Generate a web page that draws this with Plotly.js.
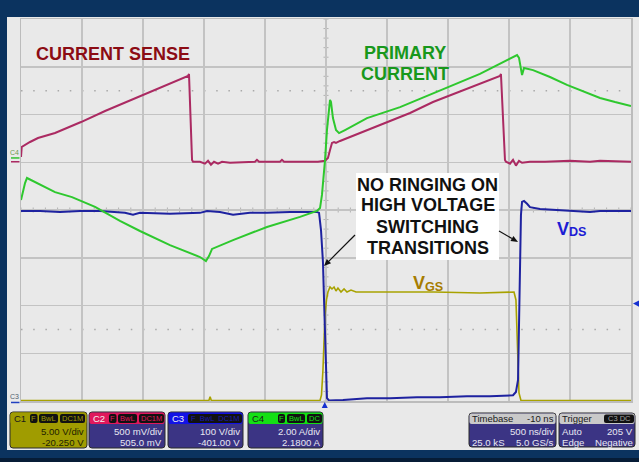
<!DOCTYPE html>
<html><head><meta charset="utf-8">
<script src="https://cdn.plot.ly/plotly-3.0.1.min.js"></script>
<style>html,body{margin:0;padding:0;background:#e9e9e9;overflow:hidden}#chart{width:639px;height:462px}</style>
</head><body><div id="chart"></div>
<script>
// ---- Scope settings ----
const channelNames = ['C1', 'C2', 'C3', 'C4'];
const unitsPerDiv = [5, 0.5, 100, 2];          // V/div, V/div, V/div, A/div
const channelOffsets = [-20.25, 0.505, -401, 2.18];
const perDivLabels = ['5.00 V/div', '500 mV/div', '100 V/div', '2.00 A/div'];
const offsetLabels = ['-20.250 V', '505.0 mV', '-401.00 V', '2.1800 A'];
const nsPerDiv = 500;
const triggerDelayNs = -10;
const triggerLevelV = 205;
const timebaseLabels = ['Timebase', '-10 ns', '500 ns/div', '25.0 kS', '5.0 GS/s'];
const triggerLabels = ['Trigger', 'C3 DC', 'Auto', '205 V', 'Edge', 'Negative'];

// ---- C1: gate voltage VGS (V) ----
const c1TimeNs = [-2500, -1200, -960, -950, -940, -49, -37, -25, -16, -8, 4, 16, 33, 49, 66, 82, 98, 123, 148, 172, 205, 246, 328, 607, 885, 1262, 1541, 1557, 1566, 1574, 1582, 1598, 2500];
const c1Volts = [0.3, 0.3, 0.3, 0.7, 0.3, 0.3, 0.88, 3.5, 6.64, 9.26, 10.83, 11.66, 12.19, 11.98, 12.19, 11.77, 12.08, 11.66, 11.98, 11.66, 11.87, 11.66, 11.66, 11.66, 11.66, 11.56, 11.66, 10.83, 7.68, 3.5, 1.09, 0.3, 0.3];

// ---- C2: current sense (V) ----
const c2TimeNs = [-2500, -2494, -2426, -2361, -2221, -2008, -1811, -1500, -1279, -1131, -1123, -1115, -1098, -1090, -1033, -992, -967, -943, -918, -885, -852, -787, -582, -566, -549, -377, -361, -344, -213, -66, -8, 16, 33, 49, 66, 82, 115, 197, 336, 500, 689, 877, 1156, 1426, 1434, 1443, 1467, 1475, 1508, 1533, 1557, 1582, 1607, 1672, 1795, 2000, 2164, 2246, 2500];
const c2Volts = [0.050, 0.155, 0.207, 0.249, 0.301, 0.416, 0.532, 0.699, 0.814, 0.898, 0.919, 0.542, 0.019, 0.000, 0.000, -0.020, 0.010, -0.030, 0.000, -0.020, 0.000, -0.010, 0.000, 0.020, 0.000, 0.000, 0.020, 0.000, 0.000, 0.000, 0.010, 0.040, 0.123, 0.197, 0.207, 0.197, 0.218, 0.259, 0.333, 0.417, 0.511, 0.626, 0.762, 0.898, 0.919, 0.647, 0.019, 0.000, -0.020, 0.020, -0.040, 0.010, -0.010, 0.000, 0.000, 0.010, 0.000, 0.010, 0.000];

// ---- C3: drain-source voltage VDS (V) ----
const c3TimeNs = [-2500, -2344, -2180, -2016, -1852, -1648, -1582, -1525, -1279, -1033, -975, -869, -762, -623, -484, -295, -74, -57, -41, -25, -16, -8, 0, 8, 25, 74, 139, 336, 525, 746, 934, 1156, 1344, 1533, 1557, 1574, 1582, 1590, 1598, 1607, 1623, 1648, 1672, 1754, 1918, 2082, 2164, 2246, 2328, 2500];
const c3Volts = [399, 399, 397, 399, 399, 395, 391, 395, 393, 395, 399, 397, 391, 395, 395, 397, 397, 395, 359, 292, 212, 129, 45, 7, 2, 2, 3, 7, 7, 9, 9, 11, 11, 13, 20, 45, 171, 296, 391, 418, 420, 414, 407, 403, 401, 399, 397, 399, 399, 399];

// ---- C4: primary current (A) ----
const c4TimeNs = [-2500, -2484, -2467, -2451, -2385, -2221, -2082, -1893, -1689, -1525, -1279, -1033, -984, -959, -934, -762, -484, -213, -74, -49, -33, -16, -8, 8, 25, 33, 41, 57, 82, 107, 156, 336, 607, 992, 1262, 1566, 1582, 1607, 1623, 1697, 1836, 1975, 2123, 2246, 2369, 2500];
const c4Amps = [-1.76, -1.34, -1.05, -0.84, -1.01, -1.43, -1.64, -2.05, -2.64, -3.06, -3.65, -4.15, -4.32, -4.11, -3.81, -3.44, -2.89, -2.47, -2.22, -2.10, -1.55, -0.71, -0.09, 1.17, 2.09, 2.43, 2.34, 1.67, 1.17, 1.04, 1.17, 1.67, 2.13, 2.93, 3.52, 4.31, 4.19, 3.47, 3.77, 3.68, 3.39, 3.06, 2.76, 2.51, 2.34, 2.18];

// ---- geometry helpers (pixel -> paper) ----
const W = 639, H = 462, ML = 21, MR = 8, MT = 19, MB = 61;
const PW = W - ML - MR, PH = H - MT - MB;
const PX = p => (p - ML) / PW;
const PY = p => (H - MB - p) / PH;
const FONT = 'Liberation Sans, Arial, sans-serif';

const traceColors = ['#a8a200', '#ab2a62', '#1e22a0', '#2ec82e'];
const headerColors = ['#a09c00', '#e0185c', '#1212e6', '#14e014'];
const BODY = '#3b3484';

function chanRange(i) {
  const c = -channelOffsets[i];
  return [c - 4 * unitsPerDiv[i], c + 4 * unitsPerDiv[i]];
}
function groundPaper(i) { return (channelOffsets[i] / unitsPerDiv[i] + 4) / 8; }

const traces = [
  {x: c1TimeNs, y: c1Volts, yaxis: 'y2', color: traceColors[0], w: 1.6},
  {x: c3TimeNs, y: c3Volts, yaxis: 'y4', color: traceColors[2], w: 2},
  {x: c2TimeNs, y: c2Volts, yaxis: 'y3', color: traceColors[1], w: 2},
  {x: c4TimeNs, y: c4Amps, yaxis: 'y5', color: traceColors[3], w: 2}
].map(t => ({x: t.x, y: t.y, yaxis: t.yaxis, xaxis: 'x', type: 'scatter', mode: 'lines',
  line: {color: t.color, width: t.w}, hoverinfo: 'skip'}));

const shapes = [];
const annotations = [];

// graticule: centre-line minor ticks and dotted quarter lines
let pv = '', ph = '';
const tHalf = 2.5 * nsPerDiv / 61, dHalf = 2.5 / 47.75;
for (let k = -20; k <= 20; k++) { const yv = k * 0.2; pv += `M${-tHalf},${yv}L${tHalf},${yv}`; }
for (let k = -25; k <= 25; k++) { const tv = k * nsPerDiv / 5; ph += `M${tv},${-dHalf}L${tv},${dHalf}`; }
shapes.push({type: 'path', xref: 'x', yref: 'y', path: pv, layer: 'below', line: {color: '#b2b2b2', width: 1}});
shapes.push({type: 'path', xref: 'x', yref: 'y', path: ph, layer: 'below', line: {color: '#b2b2b2', width: 1}});
[-2.5, 2.5].forEach(yv => shapes.push({type: 'line', xref: 'x', yref: 'y', x0: -2500, x1: 2500, y0: yv, y1: yv,
  layer: 'below', line: {color: '#a9a9a9', width: 1.5, dash: '1.5px,10.7px'}}));

function rect(x0, y0, x1, y1, fill) {
  shapes.push({type: 'rect', xref: 'paper', yref: 'paper', x0: PX(x0), x1: PX(x1), y0: PY(y1), y1: PY(y0),
    fillcolor: fill, line: {width: 0}, layer: 'above'});
}
function rrect(x0, y0, x1, y1, r, fill, lineColor) {
  const P = (x, y) => `${PX(x)},${PY(y)}`;
  const path = `M${P(x0 + r, y0)}L${P(x1 - r, y0)}Q${P(x1, y0)} ${P(x1, y0 + r)}L${P(x1, y1 - r)}Q${P(x1, y1)} ${P(x1 - r, y1)}` +
    `L${P(x0 + r, y1)}Q${P(x0, y1)} ${P(x0, y1 - r)}L${P(x0, y0 + r)}Q${P(x0, y0)} ${P(x0 + r, y0)}Z`;
  shapes.push({type: 'path', xref: 'paper', yref: 'paper', path, fillcolor: fill, layer: 'above',
    line: {width: lineColor ? 1 : 0, color: lineColor || fill}});
}
function txt(px, py, text, size, color, anchor, extra) {
  annotations.push(Object.assign({xref: 'paper', yref: 'paper', x: PX(px), y: PY(py), text, showarrow: false,
    xanchor: anchor || 'center', yanchor: 'middle', borderpad: 0,
    font: {family: FONT, size, color}}, extra || {}));
}
function arrow(tx, ty, hx, hy) {
  const len = Math.hypot(hx - tx, hy - ty), ux = (hx - tx) / len, uy = (hy - ty) / len;
  const bx = hx - ux * 7, by = hy - uy * 7, nx = -uy * 3, ny = ux * 3;
  const P = (x, y) => `${PX(x)},${PY(y)}`;
  shapes.push({type: 'path', xref: 'paper', yref: 'paper', path: `M${P(tx, ty)}L${P(bx, by)}`,
    line: {color: '#111111', width: 1.2}, layer: 'above'});
  shapes.push({type: 'path', xref: 'paper', yref: 'paper', path: `M${P(hx, hy)}L${P(bx + nx, by + ny)}L${P(bx - nx, by - ny)}Z`,
    fillcolor: '#111111', line: {width: 0}, layer: 'above'});
}

// frame
rect(0, 0, 7, 462, '#0b335f');
rect(0, 0, 639, 17, '#0b335f');
rect(0, 450, 639, 462, '#0b335f');
rect(0, 458, 639, 462, '#061c36');

// channel boxes
const boxLeft = [10, 89, 168, 248], boxRight = [87, 165, 243, 323];
const pills = [
  [[20, 27.5, 'F'], [29, 48, 'BwL'], [50, 75, 'DC1M']],
  [[20, 27.5, 'F'], [29, 48, 'BwL'], [50, 75, 'DC1M']],
  [[20, 74, 'F  BwL  DC1M']],
  [[30, 37, 'F'], [39, 57, 'BwL'], [59, 74, 'DC']]
];
channelNames.forEach((name, i) => {
  const x0 = boxLeft[i], x1 = boxRight[i];
  rrect(x0, 412, x1, 448, 3, i === 0 ? headerColors[0] : BODY, '#2a2a2a');
  rrect(x0 + 0.5, 412.5, x1 - 0.5, 424, 2, headerColors[i]);
  txt(x0 + 3, 418.5, name, 9.5, i === 3 || i === 0 ? '#1a1a1a' : '#f0f0f0', 'left');
  pills[i].forEach(p => {
    rrect(x0 + p[0], 414, x0 + p[1], 423, 2, '#111111');
    txt(x0 + (p[0] + p[1]) / 2, 418.5, p[2], 7.5, headerColors[i] === '#1212e6' ? '#1a1ab0' : headerColors[i]);
  });
  const tc = i === 0 ? '#1e1e00' : '#e8e8f2';
  txt(x1 - 2, 431.5, perDivLabels[i], 9.6, tc, 'right');
  txt(x1 - 2, 442.5, offsetLabels[i], 9.6, tc, 'right');
});

// timebase box
rrect(469, 413, 556, 447, 3, BODY, '#2a2a2a');
rrect(469.5, 413.5, 555.5, 424, 2, '#c9c9c9');
txt(471, 418.7, timebaseLabels[0], 9.5, '#1a1a1a', 'left');
txt(554.5, 418.7, timebaseLabels[1], 9.5, '#1a1a1a', 'right');
txt(554.5, 431.5, timebaseLabels[2], 9.6, '#e8e8f2', 'right');
txt(471, 442.5, timebaseLabels[3], 9.6, '#e8e8f2', 'left');
txt(554.5, 442.5, timebaseLabels[4], 9.6, '#e8e8f2', 'right');

// trigger box
rrect(559, 413, 635, 447, 3, BODY, '#2a2a2a');
rrect(559.5, 413.5, 634.5, 424, 2, '#c9c9c9');
txt(561, 418.7, triggerLabels[0], 9.5, '#1a1a1a', 'left');
rrect(604, 414.5, 634, 423, 2, '#111111');
txt(619, 418.7, triggerLabels[1], 7.5, '#a0a0a0');
txt(561, 431.5, triggerLabels[2], 9.6, '#e8e8f2', 'left');
txt(633.5, 431.5, triggerLabels[3], 9.6, '#e8e8f2', 'right');
txt(561, 442.5, triggerLabels[4], 9.6, '#e8e8f2', 'left');
txt(633.5, 442.5, triggerLabels[5], 9.6, '#e8e8f2', 'right');

// markers: channel grounds (left), trigger level (right), trigger time (bottom)
const gy4 = groundPaper(3), gy2 = groundPaper(1), gy3 = groundPaper(2);
const dPix = 1 / PH;
shapes.push({type: 'line', xref: 'paper', yref: 'paper', x0: PX(11), x1: PX(19.5), y0: gy4, y1: gy4, line: {color: '#30c030', width: 1.5}});
shapes.push({type: 'line', xref: 'paper', yref: 'paper', x0: PX(11), x1: PX(19.5), y0: gy2, y1: gy2, line: {color: traceColors[1], width: 1.5}});
shapes.push({type: 'line', xref: 'paper', yref: 'paper', x0: PX(11), x1: PX(19.5), y0: gy3 - dPix, y1: gy3 - dPix, line: {color: '#2040c0', width: 1.5}});
txt(14.5, 152.5, 'C4', 7, '#6a9a50');
txt(14.5, 396.5, 'C3', 7, '#506070');
const trigY = (((triggerLevelV + channelOffsets[2]) / unitsPerDiv[2]) + 4) / 8;
shapes.push({type: 'path', xref: 'paper', yref: 'paper', fillcolor: '#1530d0', line: {width: 0},
  path: `M${PX(639)},${trigY + 3.2 * dPix}L${PX(633)},${trigY}L${PX(639)},${trigY - 3.2 * dPix}Z`});
const trigX = (triggerDelayNs + 5 * nsPerDiv) / (10 * nsPerDiv);
const txp = 3 / PW;
shapes.push({type: 'path', xref: 'paper', yref: 'paper', fillcolor: '#1530d0', line: {width: 0},
  path: `M${trigX - txp},${PY(408)}L${trigX + txp},${PY(408)}L${trigX},${PY(402)}Z`});

// captions
txt(112.5, 54.5, '<b>CURRENT SENSE</b>', 18, '#8c0c14');
txt(404.5, 53.5, '<b>PRIMARY</b>', 18, '#18981c');
txt(404.5, 73.5, '<b>CURRENT</b>', 18, '#18981c');
rect(356, 173, 499, 260, '#ffffff');
txt(427.5, 184.5, '<b>NO RINGING ON</b>', 18, '#111111');
txt(427.5, 205.5, '<b>HIGH VOLTAGE</b>', 18, '#111111');
txt(427.5, 227, '<b>SWITCHING</b>', 18, '#111111');
txt(427.5, 248, '<b>TRANSITIONS</b>', 18, '#111111');
arrow(355, 235, 324, 266);
arrow(499, 231, 518, 242);
txt(563, 228.5, '<b>V</b>', 18, '#1c1cd4');
txt(578, 232.5, '<b>DS</b>', 12.6, '#1c1cd4');
txt(419, 282.5, '<b>V</b>', 18, '#a67c00');
txt(434, 287, '<b>GS</b>', 12.6, '#a67c00');

const axBase = {showgrid: true, gridcolor: '#c3c3c3', gridwidth: 1.5, zeroline: false, showticklabels: false,
  ticks: '', showline: true, mirror: true, linecolor: '#bcbcbc', linewidth: 1.5, fixedrange: true};
const layout = {
  width: W, height: H, margin: {l: ML, r: MR, t: MT, b: MB, pad: 0},
  paper_bgcolor: '#e9e9e9', plot_bgcolor: '#e9e9e9', showlegend: false, hovermode: false,
  xaxis: Object.assign({range: [-5 * nsPerDiv, 5 * nsPerDiv], dtick: nsPerDiv, tick0: 0}, axBase),
  yaxis: Object.assign({range: [-4, 4], dtick: 1, tick0: 0}, axBase),
  shapes, annotations
};
[0, 1, 2, 3].forEach(i => {
  layout['yaxis' + (i + 2)] = {overlaying: 'y', anchor: 'x', range: chanRange(i), visible: false, fixedrange: true};
});
Plotly.newPlot('chart', traces, layout, {displayModeBar: false, staticPlot: true}).then(gd => {
  gd.querySelectorAll('text').forEach(t => { if (!t.textContent.trim()) t.remove(); });
});
</script></body></html>
